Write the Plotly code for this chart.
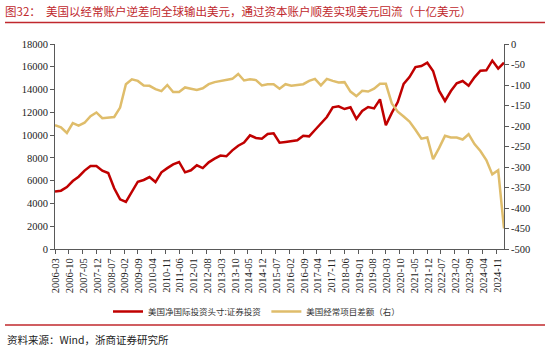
import pandas as pd
import plotly.graph_objects as go

# Quarterly observations, 2006-03 through 2025-03
quarters = pd.date_range("2006-03-01", periods=77, freq="3MS")

# US net international investment position: portfolio investment (billion USD, left axis)
niip_portfolio = [
    5050, 5120, 5440, 5970, 6350, 6880, 7290, 7290, 6880, 6670,
    5330, 4360, 4130, 5030, 5910, 6060, 6320, 5880, 6730, 7100,
    7430, 7640, 6730, 6910, 7350, 7110, 7610, 7930, 8200, 8140,
    8660, 9070, 9340, 9980, 9750, 9690, 10100, 10160, 9330, 9400,
    9450, 9540, 9950, 9890, 10450, 11030, 11590, 12440, 12530, 12290,
    12440, 11420, 12120, 12470, 12350, 13140, 10860, 11950, 12900, 14490,
    15100, 15980, 16070, 16360, 15630, 13900, 13000, 13870, 14550, 14750,
    14340, 15070, 15660, 15690, 16540, 15840, 16360,
]

# US current account balance (billion USD, right axis)
current_account = [
    -198, -203, -217, -193, -199, -192, -176, -167, -181, -179,
    -178, -155, -98, -86, -90, -101, -102, -110, -115, -100,
    -117, -117, -106, -109, -112, -108, -98, -93, -90, -88,
    -85, -73, -89, -86, -88, -101, -98, -98, -109, -98,
    -102, -100, -98, -90, -85, -101, -85, -90, -94, -93,
    -116, -127, -114, -116, -109, -97, -97, -145, -165, -177,
    -189, -209, -231, -228, -281, -254, -224, -228, -228, -233,
    -220, -244, -261, -283, -318, -308, -450,
]

left_ticks = list(range(0, 18001, 2000))
left_labels = [str(v) for v in left_ticks]
right_ticks = list(range(-500, 1, 50))
right_labels = [str(v) for v in right_ticks]

RED = "#C00000"
GOLD = "#DFBD6B"
AXIS = "#595959"
SERIF = "Liberation Serif, Times New Roman, DejaVu Serif, serif"
CJK = "Noto Sans CJK SC"

fig = go.Figure()
fig.add_trace(go.Scatter(
    x=quarters, y=niip_portfolio, mode="lines",
    name="美国净国际投资头寸:证券投资",
    line=dict(color=RED, width=2.5),
))
fig.add_trace(go.Scatter(
    x=quarters, y=current_account, mode="lines",
    name="美国经常项目差额（右）",
    line=dict(color=GOLD, width=2.5),
    yaxis="y2",
))

# plot area in pixels: x 55..504, y 44..249
L, R, T, B = 55, 46, 44, 100
W, H = 550, 349
pw, ph = W - L - R, H - T - B


def px(x):
    return (x - L) / pw


def py(y):
    return (H - B - y) / ph


tick_font = dict(family=SERIF, size=10.5, color="#222222")

fig.update_layout(
    width=W, height=H,
    margin=dict(l=L, r=R, t=T, b=B),
    paper_bgcolor="white", plot_bgcolor="white",
    showlegend=True,
    legend=dict(
        orientation="h", x=px(108), xanchor="left", y=py(297), yanchor="top",
        font=dict(family=CJK, size=8.5, color="#333333"),
        itemwidth=30, tracegroupgap=0, bgcolor="rgba(0,0,0,0)",
    ),
    xaxis=dict(
        type="date",
        range=[quarters[0], quarters[-1]],
        tick0="2006-03-01", dtick="M7",
        ticklabelmode="period", tickformat="%Y-%m", tickangle=-90,
        ticks="outside", ticklen=4, tickcolor=AXIS,
        showline=True, linecolor=AXIS, linewidth=1,
        showgrid=False, zeroline=False,
        tickfont=tick_font,
    ),
    yaxis=dict(
        range=[0, 18000], tickvals=left_ticks, ticktext=left_labels,
        ticks="outside", ticklen=4, tickcolor=AXIS,
        showline=True, linecolor=AXIS, linewidth=1,
        showgrid=False, zeroline=False,
        tickfont=tick_font,
    ),
    yaxis2=dict(
        range=[-500, 0], tickvals=right_ticks, ticktext=right_labels,
        overlaying="y", side="right",
        ticks="outside", ticklen=4, tickcolor=AXIS,
        showline=True, linecolor=AXIS, linewidth=1,
        showgrid=False, zeroline=False,
        tickfont=tick_font,
    ),
)

# heading, rules and source note
fig.add_annotation(
    xref="paper", yref="paper", x=px(3), y=py(11), xanchor="left", yanchor="middle",
    text="图32：  美国以经常账户逆差向全球输出美元，通过资本账户顺差实现美元回流（十亿美元）",
    showarrow=False, font=dict(family=CJK, size=11.5, color="#C0282D"),
)
fig.add_shape(type="line", xref="paper", yref="paper",
              x0=px(5), x1=px(545), y0=py(22.5), y1=py(22.5),
              line=dict(color="#C0282D", width=1.5))
fig.add_shape(type="line", xref="paper", yref="paper",
              x0=px(5), x1=px(545), y0=py(325), y1=py(325),
              line=dict(color="#C0282D", width=1.5))
fig.add_annotation(
    xref="paper", yref="paper", x=px(5), y=py(339), xanchor="left", yanchor="middle",
    text="资料来源：Wind，浙商证券研究所",
    showarrow=False, font=dict(family=CJK, size=10.5, color="#222222"),
)

fig.write_html("out.html")
